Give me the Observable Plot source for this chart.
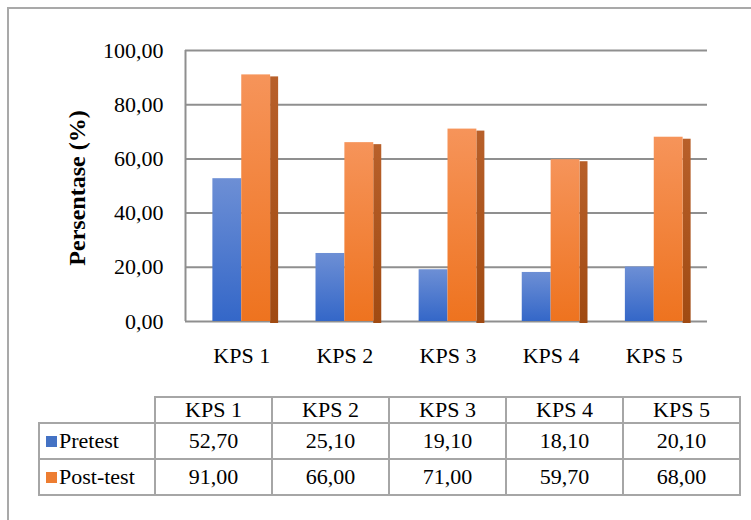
<!DOCTYPE html>
<html>
<head>
<meta charset="utf-8">
<script src="https://cdn.jsdelivr.net/npm/d3@7"></script>
<script src="https://cdn.jsdelivr.net/npm/@observablehq/plot@0.6"></script>
<style>
  html, body { margin: 0; padding: 0; background: #fff; width: 751px; height: 520px; overflow: hidden; }
  #frame { position: absolute; left: 7px; top: 7px; width: 760px; height: 530px;
           border-left: 2px solid #a9a9a9; border-top: 2px solid #a9a9a9; }
  #chart { position: absolute; left: 0; top: 0; }
  #tbl { position: absolute; left: 38px; top: 396px; border-collapse: collapse; color: #000; }
  #tbl td { border: 2px solid #a6a6a6; padding: 0; text-align: center; font-weight: normal; width: 115px;
            font-family: 'Liberation Serif', serif; font-size: 22px; }
  #tbl tr.head td { height: 24px; line-height: 22px; }
  #tbl tr.row td { height: 34px; line-height: 30px; }
  #tbl td.blank { border-top: none; border-left: none; }
  #tbl td.name { text-align: left; white-space: nowrap; width: 113px; }
  .sw { display: inline-block; width: 11px; height: 11px; margin: 0 2px 0 6px; vertical-align: 1px; }
</style>
</head>
<body>
<div id="frame"></div>
<div id="chart"></div>
<table id="tbl"></table>
<script>
const categories = ["KPS 1", "KPS 2", "KPS 3", "KPS 4", "KPS 5"];
const series = ["Pretest", "Post-test"];
const pretest = [52.70, 25.10, 19.10, 18.10, 20.10];
const posttest = [91.00, 66.00, 71.00, 59.70, 68.00];
const yTicks = [0, 20, 40, 60, 80, 100];
const seriesColors = ["#4472c4", "#ed7d31"];
const yTitle = "Persentase (%)";

const fmt = d => d.toFixed(2).replace(".", ",");
const data = categories.map((c, i) => ({cat: c, pre: pretest[i], post: posttest[i]}));

const W = 751, H = 385, ML = 167, MR = 23, MT = 50, MB = 64, PAD = 0.44;
const step = (W - ML - MR) / (categories.length + PAD);
const bw = step * (1 - PAD);
const side = 8;
const FONT = "Liberation Serif";

const defs = () => {
  const d = d3.create("svg:defs");
  const grad = (id, top, bottom) => {
    const g = d.append("linearGradient").attr("id", id).attr("x1", 0).attr("y1", 0).attr("x2", 0).attr("y2", 1);
    g.append("stop").attr("offset", "0%").attr("stop-color", top);
    g.append("stop").attr("offset", "100%").attr("stop-color", bottom);
  };
  grad("gBlue", "#6d8fd5", "#3467c8");
  grad("gOrange", "#f6945a", "#ee731f");
  grad("gSide", "#b8602a", "#a04a12");
  return d.node();
};

const chart = Plot.plot({
  width: W, height: H,
  marginLeft: ML, marginRight: MR, marginTop: MT, marginBottom: MB,
  style: {fontFamily: FONT, fontSize: "22px", color: "#000", background: "transparent"},
  x: {domain: categories, padding: PAD, round: false},
  y: {domain: [0, 100]},
  marks: [
    defs,
    Plot.ruleY(yTicks, {y: d => d, stroke: "#8f8f8f", strokeWidth: 2, insetLeft: 18, insetRight: 21}),
    Plot.ruleX([categories[0]], {x: d => d, y1: 0, y2: 100, stroke: "#8f8f8f", strokeWidth: 2, dx: 185 - (ML + step * PAD + bw / 2)}),
    Plot.barY(data, {x: "cat", y: "pre", fill: "url(#gBlue)", insetRight: bw / 2}),
    Plot.barY(data, {x: "cat", y: "post", fill: "url(#gSide)", insetLeft: bw - side, dx: side, dy: 2}),
    Plot.barY(data, {x: "cat", y: "post", fill: "url(#gOrange)", insetLeft: bw / 2}),
    Plot.axisY(yTicks, {tickSize: 0, tickPadding: 4, tickFormat: fmt, label: null, fontSize: 22, fontFamily: FONT}),
    Plot.axisX({tickSize: 0, tickPadding: 26, label: null, fontSize: 22, fontFamily: FONT}),
    Plot.text([yTitle], {frameAnchor: "left", textAnchor: "middle", rotate: -90, dx: -90, dy: 2, fontWeight: "bold", fontSize: 24, fontFamily: FONT})
  ]
});
document.getElementById("chart").appendChild(chart);

// data table
const tbl = d3.select("#tbl");
const head = tbl.append("tr").attr("class", "head");
head.append("td").attr("class", "blank");
categories.forEach(c => head.append("td").text(c));
[pretest, posttest].forEach((vals, si) => {
  const tr = tbl.append("tr").attr("class", "row");
  const nm = tr.append("td").attr("class", "name");
  nm.append("span").attr("class", "sw").style("background", seriesColors[si]);
  nm.append("span").text(series[si]);
  vals.forEach(v => tr.append("td").text(fmt(v)));
});
</script>
</body>
</html>
